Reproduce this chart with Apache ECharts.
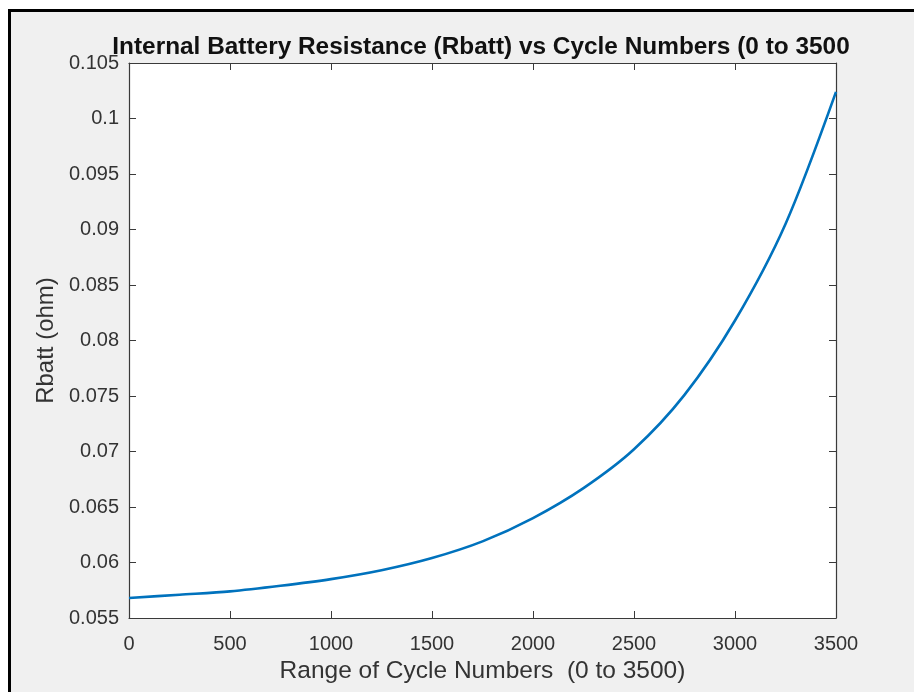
<!DOCTYPE html>
<html>
<head>
<meta charset="utf-8">
<title>Internal Battery Resistance vs Cycle Numbers</title>
<script src="https://cdn.jsdelivr.net/npm/echarts@6/dist/echarts.min.js"></script>
<style>
  html, body { margin: 0; padding: 0; background: #ffffff; }
  #chart { width: 914px; height: 692px; }
</style>
</head>
<body>
<div id="chart"></div>
<script>
// Cycle numbers (x) and internal resistance in ohm (y)
const cycles = [0, 250, 500, 750, 1000, 1250, 1500, 1750, 2000, 2250, 2500, 2750, 3000, 3250, 3500];
const rbatt = [0.0568, 0.0571, 0.0574, 0.0579, 0.0585, 0.0593, 0.0604, 0.0619, 0.0640, 0.0667, 0.0702, 0.0751, 0.0818, 0.0905, 0.1024];

// Axis ranges / tick steps
const xTicks = [0, 500, 1000, 1500, 2000, 2500, 3000, 3500];
const yTicks = [0.055, 0.06, 0.065, 0.07, 0.075, 0.08, 0.085, 0.09, 0.095, 0.1, 0.105];

const titleText = 'Internal Battery Resistance (Rbatt) vs Cycle Numbers (0 to 3500';
const xName = 'Range of Cycle Numbers  (0 to 3500)';
const yName = 'Rbatt (ohm)';

const FONT = '"Liberation Sans", Arial, Helvetica, sans-serif';
const AXIS_COLOR = '#3a3a3a';
const TEXT_COLOR = '#333333';

const chart = echarts.init(document.getElementById('chart'), null, { renderer: 'canvas' });

function tick() {
  return { show: true, inside: true, length: 7, lineStyle: { color: AXIS_COLOR, width: 1 } };
}
function axisLine() {
  return { show: true, onZero: false, lineStyle: { color: AXIS_COLOR, width: 1.2 } };
}

function xAxisDef(position, extra) {
  return Object.assign({
    type: 'value',
    position: position,
    min: xTicks[0],
    max: xTicks[xTicks.length - 1],
    interval: xTicks[1] - xTicks[0],
    splitLine: { show: false },
    axisLine: axisLine(),
    axisTick: tick()
  }, extra);
}
function yAxisDef(position, extra) {
  return Object.assign({
    type: 'value',
    position: position,
    min: yTicks[0],
    max: yTicks[yTicks.length - 1],
    interval: 0.005,
    splitLine: { show: false },
    axisLine: axisLine(),
    axisTick: tick()
  }, extra);
}

chart.setOption({
  animation: false,
  backgroundColor: 'transparent',
  textStyle: { fontFamily: FONT },
  graphic: [
    {
      // figure panel with its dark frame
      type: 'rect',
      z: -10,
      silent: true,
      shape: { x: 9.5, y: 10.5, width: 920, height: 700 },
      style: { fill: '#f0f0f0', stroke: '#000000', lineWidth: 3 }
    }
  ],
  title: {
    text: titleText,
    left: 476,
    top: 30,
    textAlign: 'center',
    textStyle: { fontFamily: FONT, fontSize: 24.4, fontWeight: 'bold', color: '#111111' }
  },
  grid: {
    left: 129, top: 63, width: 707, height: 555,
    show: true, backgroundColor: '#ffffff', borderWidth: 0
  },
  xAxis: [
    xAxisDef('bottom', {
      name: xName,
      nameLocation: 'middle',
      nameGap: 36,
      nameTextStyle: { fontFamily: FONT, fontSize: 24.5, color: TEXT_COLOR },
      axisLabel: {
        fontFamily: FONT, fontSize: 20, color: TEXT_COLOR, margin: 16,
        formatter: v => String(v)
      }
    }),
    xAxisDef('top', { axisLabel: { show: false } })
  ],
  yAxis: [
    yAxisDef('left', {
      name: yName,
      nameLocation: 'middle',
      nameGap: 70,
      nameTextStyle: { fontFamily: FONT, fontSize: 24, color: TEXT_COLOR },
      axisLabel: {
        fontFamily: FONT, fontSize: 20, color: TEXT_COLOR, margin: 10,
        formatter: v => String(parseFloat(v.toFixed(3)))
      }
    }),
    yAxisDef('right', { axisLabel: { show: false } })
  ],
  series: [
    {
      type: 'line',
      xAxisIndex: 0,
      yAxisIndex: 0,
      data: cycles.map((c, i) => [c, rbatt[i]]),
      smooth: 0.3,
      showSymbol: false,
      lineStyle: { color: '#0072BD', width: 2.6 },
      itemStyle: { color: '#0072BD' }
    }
  ]
});
</script>
</body>
</html>
